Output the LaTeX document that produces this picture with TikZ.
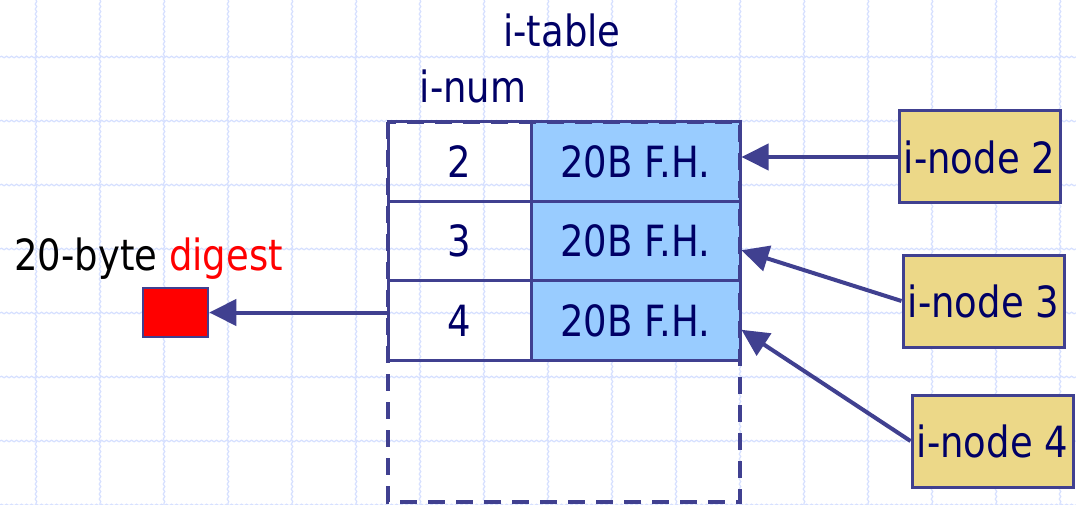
\documentclass[tikz,border=0pt]{standalone}
\usepackage{fontspec}
\newfontfamily\labelfont{DejaVu Sans}[FakeStretch=0.86]
\usetikzlibrary{arrows.meta,decorations.pathmorphing}
\definecolor{ink}{RGB}{0,0,102}
\definecolor{edge}{RGB}{64,64,144}
\definecolor{cellblue}{RGB}{153,204,255}
\definecolor{khaki}{RGB}{236,216,136}
\definecolor{gridline}{RGB}{214,224,255}
\tikzset{
  txt/.style={font=\labelfont\fontsize{43}{50}\selectfont, text=ink, inner sep=0pt},
  gridrule/.style={draw=gridline, line width=1.2pt,
    decorate, decoration={snake, amplitude=0.8pt, segment length=5pt}},
  numcell/.style={txt, draw=edge, line width=3pt, minimum width=143pt, minimum height=79.5pt},
  fhcell/.style={txt, draw=edge, fill=cellblue, line width=3pt, minimum width=209pt, minimum height=79.5pt},
  inodebox/.style={txt, draw=edge, fill=khaki, line width=3pt, minimum width=161pt, minimum height=92pt},
  pointer/.style={draw=edge, line width=4pt, -{Triangle[length=27pt,width=26pt]}},
  spare/.style={draw=edge, line width=4.5pt, dash pattern=on 17pt off 11pt}
}
\begin{document}
\begin{tikzpicture}[x=1pt, y=-1pt]
  \useasboundingbox (0,0) rectangle (1076,505);
  \fill[white] (0,0) rectangle (1076,505);

  % background ruling
  \foreach \gx in {36,100,...,1060} { \draw[gridrule] (\gx,0) -- (\gx,505); }
  \foreach \gy in {57,121,...,505} { \draw[gridrule] (0,\gy) -- (1076,\gy); }

  % titles
  \node[txt, anchor=base] (title) at (562,47) {i-table};
  \node[txt, anchor=base] (numhead) at (473,103) {i-num};

  % table rows
  \node[numcell] (num2) at (459.5,161.5) {2};
  \node[fhcell]  (fh2)  at (635.5,161.5) {20B F.H.};
  \node[numcell] (num3) at (459.5,241) {3};
  \node[fhcell]  (fh3)  at (635.5,241) {20B F.H.};
  \node[numcell] (num4) at (459.5,320.5) {4};
  \node[fhcell]  (fh4)  at (635.5,320.5) {20B F.H.};

  % whole table extent
  \draw[spare] (388,122) rectangle (740,502);

  % i-nodes
  \node[inodebox] (in2) at (979.5,157) {i-node 2};
  \node[inodebox] (in3) at (983.5,301) {i-node 3};
  \node[inodebox] (in4) at (992.5,441) {i-node 4};

  % digest
  \node[txt, anchor=base, text=black] (dlabel) at (148.5,270) {20-byte \textcolor{red}{digest}};
  \node[draw=edge, fill=red, line width=2.5pt, minimum width=65pt, minimum height=49pt, inner sep=0pt] (dig) at (175.5,312.5) {};

  % pointers
  \draw[pointer] (in2.west) -- (fh2.east |- in2.west);
  \draw[pointer] (in3.west) -- (fh3.-5);
  \draw[pointer] (in4.west) -- (fh4.-5);
  \draw[pointer] (num4.west |- dig.east) -- (dig.east);
\end{tikzpicture}
\end{document}
